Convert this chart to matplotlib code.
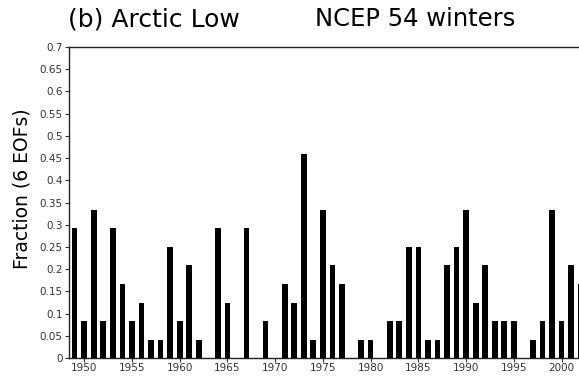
import numpy as np
import matplotlib
matplotlib.use("Agg")
import matplotlib.pyplot as plt

# winters 1949-2002, fraction of the 6 leading EOFs (counts out of 24)
years = np.arange(1949, 2003)
counts = [7, 2, 8, 2, 7, 4, 2, 3, 1, 1,
          6, 2, 5, 1, 0, 7, 3, 0, 7, 0,
          2, 0, 4, 3, 11, 1, 8, 5, 4, 0,
          1, 1, 0, 2, 2, 6, 6, 1, 1, 5,
          6, 8, 3, 5, 2, 2, 2, 0, 1, 2,
          8, 2, 5, 4]
fraction = np.array(counts) / 24.0

yticks = np.arange(0, 0.701, 0.05)
ytick_labels = ["0", "0.05", "0.1", "0.15", "0.2", "0.25", "0.3", "0.35",
                "0.4", "0.45", "0.5", "0.55", "0.6", "0.65", "0.7"]
xticks = np.arange(1950, 2001, 5)

fig = plt.figure(figsize=(5.79, 3.81), dpi=100)
ax = fig.add_axes([0.119, 0.060, 0.893, 0.817])

ax.bar(years, fraction, width=0.6, color="black")

ax.set_xlim(1948.4, 2002.55)
ax.set_ylim(0, 0.7)
ax.set_yticks(yticks)
ax.set_yticklabels(ytick_labels)
ax.set_xticks(xticks)
ax.tick_params(axis="both", labelsize=7.5, length=3, width=0.8,
               colors="#333333", pad=1.5)
ax.tick_params(axis="x", pad=0.5)
for side in ("left", "bottom", "top"):
    ax.spines[side].set_linewidth(1.0)
    ax.spines[side].set_color("#222222")
ax.spines["right"].set_visible(False)

ax.set_ylabel("Fraction (6 EOFs)", fontsize=13.5)
ax.yaxis.set_label_coords(-0.072, 0.543)

fig.text(0.117, 0.950, "(b) Arctic Low", fontsize=18, ha="left", va="center")
fig.text(0.544, 0.950, "NCEP 54 winters", fontsize=17.5, ha="left", va="center")

fig.savefig("out.png", dpi=100)
